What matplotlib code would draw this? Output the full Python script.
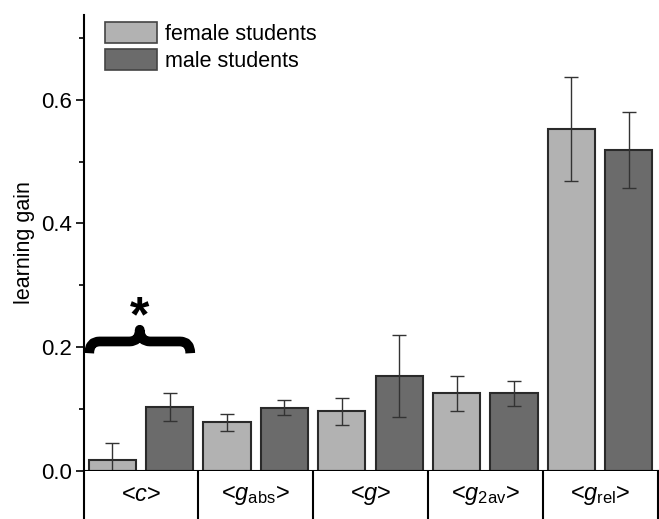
import numpy as np
import matplotlib
matplotlib.use("Agg")
import matplotlib.pyplot as plt
from matplotlib.path import Path
from matplotlib.patches import PathPatch, Patch

plt.rcParams['font.family'] = ['Liberation Sans', 'DejaVu Sans']
plt.rcParams['mathtext.fontset'] = 'custom'
plt.rcParams['mathtext.rm'] = 'Liberation Sans'
plt.rcParams['mathtext.it'] = 'Liberation Sans:italic'

categories = ['<$c$>', '<$g_{\\rm abs}$>', '<$g$>', '<$g_{\\rm 2av}$>', '<$g_{\\rm rel}$>']
female = [0.018, 0.078, 0.096, 0.125, 0.552]
female_err = [0.026, 0.013, 0.022, 0.028, 0.084]
male = [0.103, 0.102, 0.153, 0.125, 0.519]
male_err = [0.022, 0.012, 0.066, 0.020, 0.061]
legend_labels = ['female students', 'male students']

c_female = '#b2b2b2'
c_male = '#6b6b6b'
edge = '#2a2a2a'

W, H = 659, 519
fig = plt.figure(figsize=(W / 100, H / 100), dpi=100)
x_l, x_r = 83.5, 657.5
y_t, y_0 = 15, 470.7
ax = fig.add_axes([x_l / W, 1 - y_0 / H, (x_r - x_l) / W, (y_0 - y_t) / H])
tab = fig.add_axes([x_l / W, -0.01, (x_r - x_l) / W, 1 - y_0 / H + 0.01])

x = np.arange(len(categories))
bw = 0.41
err_kw = dict(ecolor='#333333', elinewidth=1.0, capsize=5, capthick=1.0)
ax.bar(x - 0.25, female, bw, yerr=female_err, color=c_female, edgecolor=edge,
       linewidth=1.5, error_kw=err_kw, zorder=2)
ax.bar(x + 0.25, male, bw, yerr=male_err, color=c_male, edgecolor=edge,
       linewidth=1.5, error_kw=err_kw, zorder=2)

ax.set_xlim(-0.5, len(categories) - 0.5)
ax.set_ylim(0, 0.737)
ax.set_xticks([])
ax.set_yticks([0.0, 0.2, 0.4, 0.6])
ax.set_yticklabels(['0.0', '0.2', '0.4', '0.6'])
ax.set_yticks([0.1, 0.3, 0.5, 0.7], minor=True)
ax.tick_params(axis='y', which='major', direction='out', length=6, width=1.2, labelsize=16, pad=2)
ax.tick_params(axis='y', which='minor', direction='out', length=3.5, width=1.2)
for s in ['top', 'right']:
    ax.spines[s].set_visible(False)
ax.spines['left'].set_linewidth(1.5)
ax.spines['bottom'].set_linewidth(1.5)
ax.set_ylabel('learning gain', fontsize=15.5, labelpad=5)

# category label boxes below the axis
tab.set_xlim(-0.5, len(categories) - 0.5)
tab.set_ylim(0, 1)
tab.set_xticks([])
tab.set_yticks([])
for s in ['top', 'bottom']:
    tab.spines[s].set_visible(False)
for s in ['left', 'right']:
    tab.spines[s].set_linewidth(1.5)
for xi in x[1:]:
    tab.axvline(xi - 0.5, color='black', lw=1.5)
for xi, lab in zip(x, categories):
    tab.text(xi, 0.55, lab, ha='center', va='center', fontsize=17)

# significance brace over <c>
bx0, bx1, by, bh = -0.45, 0.43, 0.19, 0.038
bm = (bx0 + bx1) / 2
verts = [(bx0, by), (bx0, by + bh * 0.5), (bx0 + 0.09, by + bh * 0.5),
         (bm - 0.09, by + bh * 0.5), (bm, by + bh * 0.5), (bm, by + bh),
         (bm, by + bh * 0.5), (bm + 0.09, by + bh * 0.5),
         (bx1 - 0.09, by + bh * 0.5), (bx1, by + bh * 0.5), (bx1, by)]
codes = [Path.MOVETO, Path.CURVE3, Path.CURVE3, Path.LINETO, Path.CURVE3, Path.CURVE3,
         Path.CURVE3, Path.CURVE3, Path.LINETO, Path.CURVE3, Path.CURVE3]
ax.add_patch(PathPatch(Path(verts, codes), fill=False, lw=7, edgecolor='black',
                       capstyle='butt', joinstyle='round', zorder=3))
ax.text(bm, 0.226, '*', ha='center', va='baseline', fontsize=36, fontweight='bold')

handles = [Patch(facecolor=c_female, edgecolor='#444444', linewidth=1.2),
           Patch(facecolor=c_male, edgecolor='#444444', linewidth=1.2)]
ax.legend(handles, legend_labels, loc='upper left', bbox_to_anchor=(0.037, 0.985),
          frameon=False, fontsize=15.5, handlelength=2.42, handleheight=1.16,
          labelspacing=0.18, handletextpad=0.4, borderpad=0, borderaxespad=0)

fig.savefig('out.png', dpi=100)
